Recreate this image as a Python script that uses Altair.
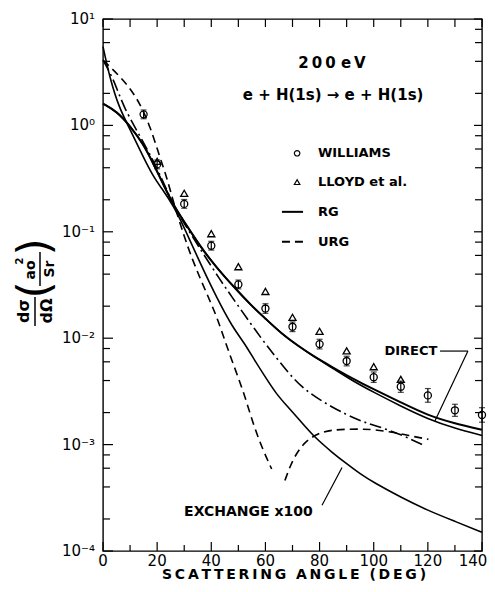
import altair as alt
import pandas as pd

# ---------------- data ----------------
# direct cross sections (two nearly coincident solid curves)
dir1_a = [0, 5, 10, 15, 17.4, 20, 26, 30, 36, 42, 48, 55, 60, 66, 72, 78, 85, 92, 100, 110, 120, 130, 140]
dir1_v = [1.6, 1.36, 0.99, 0.66, 0.50, 0.37, 0.176, 0.125, 0.072, 0.046, 0.031, 0.020, 0.0153, 0.011,
          0.0085, 0.0067, 0.0053, 0.0042, 0.0033, 0.0025, 0.00188, 0.00158, 0.00138]
dir2_a = [0, 5, 10, 15, 17.4, 20, 26, 30, 36, 42, 48, 55, 60, 66, 72, 78, 85, 92, 100, 110, 120, 130, 140]
dir2_v = [1.6, 1.36, 0.99, 0.66, 0.50, 0.37, 0.176, 0.125, 0.072, 0.046, 0.031, 0.020, 0.0153, 0.011,
          0.0085, 0.0067, 0.0052, 0.0040, 0.0031, 0.0023, 0.00174, 0.00142, 0.00122]
# RG exchange x100 (solid)
exrg_a = [0, 2.5, 6, 10, 14, 18.5, 22, 26, 30, 36, 42, 48, 52, 56, 60, 64, 68, 73, 78, 85, 90, 95, 100,
          110, 120, 130, 140]
exrg_v = [5.5, 2.8, 1.45, 0.92, 0.56, 0.33, 0.25, 0.176, 0.11, 0.05, 0.024, 0.0125, 0.0092, 0.0062,
          0.0043, 0.0030, 0.0023, 0.00166, 0.00118, 0.00083, 0.00066, 0.00053, 0.00044, 0.00032,
          0.00024, 0.00019, 0.00015]
# URG exchange x100 (dashed, two branches around the zero)
exurg1_a = [0, 6.3, 12.4, 17.4, 21, 23.5, 26, 30, 33, 36, 39, 42, 45, 48, 52, 55.5, 59, 62.3]
exurg1_v = [4.1, 2.9, 1.88, 0.99, 0.50, 0.33, 0.19, 0.09, 0.055, 0.036, 0.024, 0.016, 0.0095, 0.0058,
            0.0031, 0.00155, 0.0009, 0.00059]
exurg2_a = [67.2, 70.3, 75.2, 81.4, 87.5, 95, 100, 108.5, 114, 120.2]
exurg2_v = [0.00046, 0.00076, 0.00112, 0.00134, 0.00139, 0.0014, 0.00139, 0.00129, 0.0012, 0.00112]
# dash-dot curve
dd_a = [0, 4, 7.5, 13.7, 20, 26, 30, 35, 43, 50, 59, 65, 73, 85, 95, 101, 110, 119]
dd_v = [4.1, 2.7, 1.5, 0.79, 0.40, 0.176, 0.12, 0.075, 0.036, 0.020, 0.0095, 0.0061, 0.0034, 0.0022,
        0.00166, 0.0015, 0.00125, 0.00097]
# measurements
will_a = [15, 20, 30, 40, 50, 60, 70, 80, 90, 100, 110, 120, 130, 140]
will_v = [1.27, 0.43, 0.183, 0.074, 0.032, 0.019, 0.0128, 0.0088, 0.0061, 0.0043, 0.0035, 0.0029,
          0.0021, 0.0019]
will_err = [0.1, 0.1, 0.1, 0.1, 0.1, 0.11, 0.11, 0.11, 0.11, 0.12, 0.13, 0.16, 0.14, 0.17]
lloyd_a = [20, 30, 40, 50, 60, 70, 80, 90, 100, 110]
lloyd_v = [0.46, 0.23, 0.096, 0.047, 0.0275, 0.0157, 0.0116, 0.0076, 0.0054, 0.0041]
# axis ticks and tick labels
x_major = [0, 20, 40, 60, 80, 100, 120, 140]
x_labels = ["0", "20", "40", "60", "80", "100", "120", "140"]
x_minor = [10, 30, 50, 70, 90, 110, 130]
y_major = [1e-4, 1e-3, 1e-2, 1e-1, 1, 10]
y_labels = ["10⁻⁴", "10⁻³", "10⁻²", "10⁻¹", "10⁰", "10¹"]
y_minor = [k * 10.0 ** e for e in range(-4, 1) for k in (2, 4, 6, 8)]

# ---------------- chart ----------------
W, H = 379, 532
F = "DejaVu Sans"
xs = alt.Scale(domain=[0, 140], nice=False, zero=False)
ys = alt.Scale(type="log", domain=[1e-4, 10], nice=False)
one = pd.DataFrame({"k": [0]})
TS = "\u2009"
NB = "\u00a0"


def curve(a, v, width=1.6, dash=None):
    kw = dict(color="black", strokeWidth=width, interpolate="basis")
    if dash:
        kw["strokeDash"] = dash
    return alt.Chart(pd.DataFrame({"a": a, "v": v})).mark_line(**kw).encode(
        x=alt.X("a:Q", scale=xs, axis=None), y=alt.Y("v:Q", scale=ys, axis=None))


def dtext(txt, a, v, size, align="center", weight="bold"):
    return alt.Chart(one).mark_text(text=txt, font=F, fontSize=size, fontWeight=weight, align=align,
                                    baseline="middle", color="black").encode(
        x=alt.XDatum(a, scale=xs, axis=None), y=alt.YDatum(v, scale=ys, axis=None))


def drule(a1, v1, a2, v2, width=1.2, dash=None):
    kw = dict(color="black", strokeWidth=width)
    if dash:
        kw["strokeDash"] = dash
    return alt.Chart(one).mark_rule(**kw).encode(
        x=alt.XDatum(a1, scale=xs, axis=None), y=alt.YDatum(v1, scale=ys, axis=None),
        x2=alt.X2Datum(a2), y2=alt.Y2Datum(v2))


def ptext(txt, x, y, size, weight="bold", angle=0, baseline="middle"):
    return alt.Chart(one).mark_text(text=txt, font=F, fontSize=size, fontWeight=weight, angle=angle,
                                    align="center", baseline=baseline, color="black").encode(
        x=alt.value(x), y=alt.value(y))


def prule(x, y, x2, y2, width=1.5):
    return alt.Chart(one).mark_rule(color="black", strokeWidth=width).encode(
        x=alt.value(x), y=alt.value(y), x2=alt.value(x2), y2=alt.value(y2))


def yticks(vals, x0, x1):
    return alt.Chart(pd.DataFrame({"v": vals})).mark_rule(color="black", strokeWidth=1.2).encode(
        y=alt.Y("v:Q", scale=ys, axis=None), x=alt.value(x0), x2=alt.value(x1))


def xticks(vals, y0, y1):
    return alt.Chart(pd.DataFrame({"a": vals})).mark_rule(color="black", strokeWidth=1.2).encode(
        x=alt.X("a:Q", scale=xs, axis=None), y=alt.value(y0), y2=alt.value(y1))


# tick labels drawn through the scales (last one nudged left so it stays on the page)
x_lab = alt.Chart(pd.DataFrame({"a": x_major[:-1], "t": x_labels[:-1]})).mark_text(
    font=F, fontSize=15, color="black", align="center", baseline="middle").encode(
    x=alt.X("a:Q", scale=xs, axis=None), y=alt.value(H + 10), text="t:N")
x_lab_last = alt.Chart(pd.DataFrame({"a": x_major[-1:], "t": x_labels[-1:]})).mark_text(
    font=F, fontSize=15, color="black", align="center", baseline="middle", dx=-9).encode(
    x=alt.X("a:Q", scale=xs, axis=None), y=alt.value(H + 10), text="t:N")
y_lab = alt.Chart(pd.DataFrame({"v": y_major, "t": y_labels})).mark_text(
    font=F, fontSize=15, color="black", align="right", baseline="middle").encode(
    y=alt.Y("v:Q", scale=ys, axis=None), x=alt.value(-8), text="t:N")
x_title = (NB * 2).join(TS.join(w) for w in "SCATTERING ANGLE (DEG)".split(" "))

will_df = pd.DataFrame({"a": will_a, "v": will_v, "e": will_err})
will_df["lo"] = will_df["v"] / (1 + will_df["e"])
will_df["hi"] = will_df["v"] * (1 + will_df["e"])

williams = alt.Chart(will_df).mark_point(shape="circle", filled=False, size=50, color="black",
                                         strokeWidth=1.3, opacity=1).encode(
    x=alt.X("a:Q", scale=xs, axis=None), y=alt.Y("v:Q", scale=ys, axis=None))

errbars = alt.Chart(will_df).mark_errorbar(ticks={"size": 6, "thickness": 1.2}, color="black",
                                           thickness=1.2).encode(
    x=alt.X("a:Q", scale=xs, axis=None), y=alt.Y("lo:Q", scale=ys, axis=None), y2="hi:Q")

lloyd = alt.Chart(pd.DataFrame({"a": lloyd_a, "v": lloyd_v})).mark_point(
    shape="triangle-up", filled=False, size=50, color="black", strokeWidth=1.3, opacity=1).encode(
    x=alt.X("a:Q", scale=xs, axis=None), y=alt.Y("v:Q", scale=ys, axis=None))

layers = [
    yticks(y_major, 0, 10), yticks(y_minor, 0, 7),
    yticks(y_major, W, W - 8), yticks(y_minor, W, W - 7),
    xticks(x_major, H, H - 9), xticks(x_minor, H, H - 6),
    xticks(x_major, 0, 8), xticks(x_minor, 0, 8),
    x_lab, x_lab_last, y_lab,
    ptext(x_title, 191, H + 27.5, 14, baseline="alphabetic"),
    curve(dir1_a, dir1_v, 2.0), curve(dir2_a, dir2_v, 1.6),
    curve(exrg_a, exrg_v, 1.6),
    curve(exurg1_a, exurg1_v, 1.6, [8, 5]), curve(exurg2_a, exurg2_v, 1.6, [8, 5]),
    curve(dd_a, dd_v, 1.6, [12, 4, 2, 4]),
    errbars, williams, lloyd,
    # annotations
    dtext(TS.join("200") + " " + TS.join("eV"), 84.6, 3.88, 15),
    dtext("e + H(1s) → e + H(1s)", 85, 1.95, 15),
    alt.Chart(one).mark_point(shape="circle", filled=False, size=30, color="black", strokeWidth=1.2,
                              opacity=1).encode(x=alt.XDatum(71.7, scale=xs, axis=None),
                                                y=alt.YDatum(0.547, scale=ys, axis=None)),
    alt.Chart(one).mark_point(shape="triangle-up", filled=False, size=30, color="black",
                              strokeWidth=1.2, opacity=1).encode(
        x=alt.XDatum(71.7, scale=xs, axis=None), y=alt.YDatum(0.293, scale=ys, axis=None)),
    drule(66.1, 0.154, 73.9, 0.154, 2.0),
    drule(66.1, 0.0807, 73.9, 0.0807, 2.0, [8, 5]),
    dtext("WILLIAMS", 79.4, 0.547, 13, "left"),
    dtext("LLOYD et al.", 79.4, 0.293, 13, "left"),
    dtext("RG", 79.4, 0.154, 13, "left"),
    dtext("URG", 79.4, 0.0807, 13, "left"),
    dtext("DIRECT", 123.5, 0.00757, 13, "right"),
    drule(124.5, 0.00757, 134.8, 0.00757),
    drule(134.8, 0.00757, 122.6, 0.00167),
    dtext("EXCHANGE x100", 53.7, 0.000231, 14),
    drule(80.9, 0.000269, 88.3, 0.00061),
    # y-axis title: d sigma / d Omega (a0^2 / Sr), rotated
    ptext("dσ", -79, 292, 16, angle=270), prule(-68, 278, -68, 307), ptext("dΩ", -56, 292, 16, angle=270),
    ptext("(", -67, 271, 44, "normal", 270), ptext(")", -67, 228, 44, "normal", 270),
    ptext("ao", -72, 251, 14, angle=270), ptext("2", -83, 242, 10, angle=270),
    prule(-63, 233, -63, 267), ptext("Sr", -53, 250, 14, angle=270),
]

chart = alt.layer(*layers).properties(
    width=W, height=H,
    autosize=alt.AutoSizeParams(type="none"),
    padding={"left": 95, "top": 11, "right": 5, "bottom": 30},
    background="white",
).configure_view(stroke="black", strokeWidth=1.4)

chart.save("out.html", embed_options={"renderer": "svg", "actions": False})
